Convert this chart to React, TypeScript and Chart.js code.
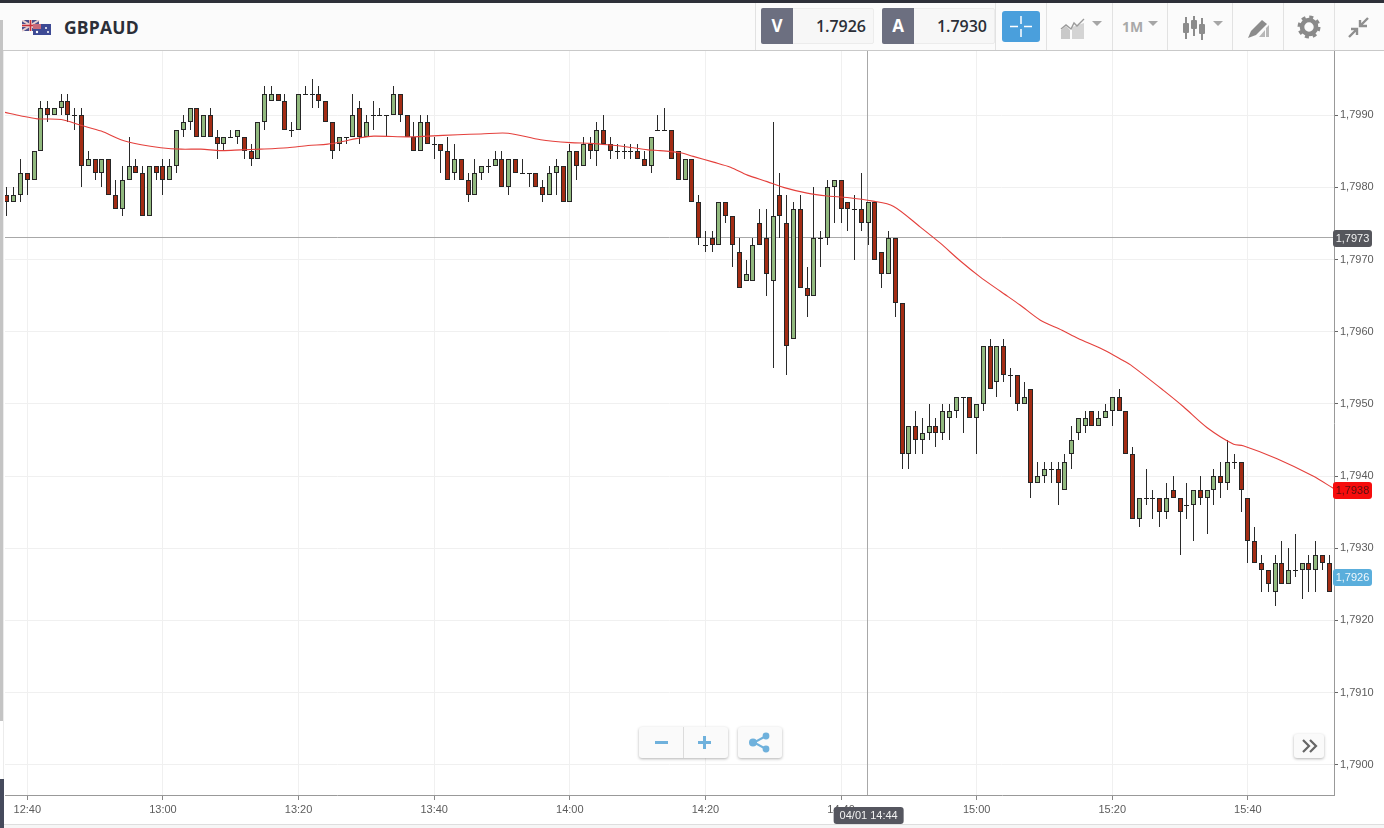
import React, { useEffect, useRef } from "react";
import { Chart, registerables } from "chart.js";

Chart.register(...registerables);

const firstMinute = 757; // 12:37, minutes since midnight
const opens = [1.7979,1.7978,1.7979,1.7982,1.7981,1.7985,1.7991,1.7990,1.7991,1.7992,
1.7990,1.7990,1.7983,1.7984,1.7982,1.7984,1.7979,1.7977,1.7981,1.7983,
1.7982,1.7976,1.7983,1.7983,1.7981,1.7983,1.7988,1.7989,1.7991,1.7987,
1.7990,1.7987,1.7986,1.7987,1.7987,1.7987,1.7985,1.7984,1.7989,1.7992,
1.7993,1.7992,1.7988,1.7988,1.7993,1.7993,1.7993,1.7992,1.7989,1.7986,
1.7987,1.7987,1.7991,1.7987,1.7990,1.7990,1.7990,1.7990,1.7993,1.7990,
1.7987,1.7985,1.7989,1.7986,1.7986,1.7985,1.7982,1.7984,1.7981,1.7979,
1.7982,1.7983,1.7983,1.7984,1.7980,1.7984,1.7982,1.7982,1.7982,1.7980,
1.7979,1.7982,1.7983,1.7978,1.7985,1.7983,1.7986,1.7985,1.7988,1.7986,
1.7985,1.7985,1.7985,1.7985,1.7984,1.7983,1.7988,1.7988,1.7988,1.7985,
1.7981,1.7984,1.7978,1.7972,1.7973,1.7972,1.7978,1.7976,1.7971,1.7967,
1.7967,1.7975,1.7973,1.7967,1.7979,1.7975,1.7959,1.7977,1.7966,1.7965,
1.7973,1.7973,1.7980,1.7981,1.7978,1.7977,1.7977,1.7975,1.7978,1.7971,
1.7968,1.7973,1.7964,1.7943,1.7947,1.7945,1.7946,1.7947,1.7946,1.7948,
1.7949,1.7951,1.7951,1.7948,1.7950,1.7958,1.7953,1.7958,1.7954,1.7954,
1.7950,1.7952,1.7939,1.7940,1.7941,1.7941,1.7938,1.7943,1.7946,1.7947,
1.7949,1.7947,1.7948,1.7949,1.7951,1.7949,1.7943,1.7934,1.7937,1.7937,
1.7937,1.7935,1.7938,1.7937,1.7936,1.7936,1.7938,1.7937,1.7938,1.7940,
1.7939,1.7942,1.7942,1.7937,1.7931,1.7928,1.7927,1.7924,1.7928,1.7925,
1.7927,1.7927,1.7928,1.7927,1.7929,1.7928];
const closes = [1.7978,1.7979,1.7982,1.7981,1.7985,1.7991,1.7990,1.7991,1.7992,1.7990,
1.7990,1.7983,1.7984,1.7982,1.7984,1.7979,1.7977,1.7981,1.7983,1.7982,
1.7976,1.7983,1.7982,1.7981,1.7983,1.7988,1.7989,1.7991,1.7987,1.7990,
1.7987,1.7986,1.7987,1.7987,1.7988,1.7985,1.7984,1.7989,1.7993,1.7993,
1.7992,1.7988,1.7988,1.7993,1.7993,1.7993,1.7992,1.7989,1.7985,1.7987,
1.7987,1.7990,1.7987,1.7989,1.7990,1.7990,1.7990,1.7993,1.7990,1.7987,
1.7985,1.7989,1.7986,1.7986,1.7985,1.7981,1.7984,1.7981,1.7979,1.7982,
1.7983,1.7983,1.7984,1.7980,1.7984,1.7982,1.7982,1.7982,1.7980,1.7979,
1.7982,1.7983,1.7978,1.7985,1.7983,1.7986,1.7985,1.7988,1.7986,1.7985,
1.7985,1.7985,1.7985,1.7984,1.7983,1.7987,1.7988,1.7988,1.7984,1.7981,
1.7984,1.7978,1.7973,1.7972,1.7972,1.7978,1.7976,1.7972,1.7966,1.7968,
1.7972,1.7972,1.7968,1.7976,1.7976,1.7958,1.7977,1.7966,1.7965,1.7973,
1.7973,1.7980,1.7981,1.7977,1.7977,1.7977,1.7975,1.7978,1.7970,1.7968,
1.7973,1.7964,1.7943,1.7947,1.7945,1.7946,1.7947,1.7946,1.7949,1.7949,
1.7951,1.7951,1.7948,1.7950,1.7958,1.7952,1.7958,1.7954,1.7954,1.7950,
1.7951,1.7939,1.7940,1.7941,1.7941,1.7939,1.7942,1.7945,1.7948,1.7948,
1.7947,1.7948,1.7949,1.7951,1.7949,1.7943,1.7934,1.7937,1.7937,1.7937,
1.7935,1.7937,1.7937,1.7935,1.7936,1.7938,1.7937,1.7938,1.7940,1.7939,
1.7942,1.7942,1.7938,1.7931,1.7928,1.7927,1.7925,1.7928,1.7925,1.7927,
1.7927,1.7928,1.7927,1.7929,1.7928,1.7924];
const highs = [1.7980,1.7980,1.7984,1.7982,1.7985,1.7992,1.7992,1.7991,1.7993,1.7993,
1.7991,1.7991,1.7985,1.7984,1.7984,1.7984,1.7981,1.7983,1.7987,1.7984,
1.7983,1.7983,1.7983,1.7984,1.7984,1.7988,1.7990,1.7991,1.7991,1.7990,
1.7991,1.7988,1.7987,1.7988,1.7988,1.7987,1.7986,1.7989,1.7994,1.7994,
1.7993,1.7993,1.7989,1.7993,1.7994,1.7995,1.7994,1.7992,1.7989,1.7987,
1.7987,1.7993,1.7992,1.7990,1.7992,1.7991,1.7990,1.7994,1.7993,1.7990,
1.7989,1.7990,1.7990,1.7987,1.7986,1.7987,1.7986,1.7984,1.7982,1.7984,
1.7983,1.7984,1.7985,1.7985,1.7984,1.7984,1.7984,1.7982,1.7982,1.7981,
1.7983,1.7984,1.7983,1.7986,1.7985,1.7987,1.7987,1.7989,1.7990,1.7987,
1.7986,1.7986,1.7986,1.7986,1.7985,1.7987,1.7990,1.7991,1.7988,1.7985,
1.7984,1.7984,1.7979,1.7974,1.7974,1.7978,1.7978,1.7976,1.7973,1.7970,
1.7973,1.7977,1.7977,1.7989,1.7982,1.7979,1.7978,1.7979,1.7969,1.7980,
1.7974,1.7981,1.7981,1.7981,1.7978,1.7979,1.7982,1.7978,1.7978,1.7971,
1.7974,1.7973,1.7964,1.7947,1.7949,1.7948,1.7950,1.7948,1.7950,1.7950,
1.7951,1.7951,1.7951,1.7950,1.7958,1.7959,1.7958,1.7959,1.7955,1.7954,
1.7953,1.7952,1.7942,1.7942,1.7942,1.7942,1.7943,1.7947,1.7948,1.7949,
1.7949,1.7949,1.7950,1.7951,1.7952,1.7949,1.7944,1.7937,1.7941,1.7938,
1.7937,1.7939,1.7940,1.7937,1.7939,1.7938,1.7940,1.7938,1.7941,1.7942,
1.7945,1.7943,1.7942,1.7937,1.7933,1.7929,1.7927,1.7929,1.7931,1.7930,
1.7932,1.7928,1.7929,1.7931,1.7929,1.7929];
const lows = [1.7976,1.7978,1.7978,1.7979,1.7981,1.7985,1.7989,1.7990,1.7990,1.7989,
1.7988,1.7980,1.7983,1.7981,1.7980,1.7979,1.7977,1.7976,1.7981,1.7982,
1.7976,1.7976,1.7981,1.7979,1.7981,1.7982,1.7987,1.7988,1.7987,1.7987,
1.7987,1.7984,1.7985,1.7987,1.7986,1.7984,1.7983,1.7984,1.7988,1.7992,
1.7992,1.7988,1.7987,1.7988,1.7993,1.7991,1.7991,1.7989,1.7984,1.7985,
1.7986,1.7987,1.7986,1.7987,1.7988,1.7990,1.7987,1.7990,1.7989,1.7987,
1.7985,1.7985,1.7986,1.7984,1.7982,1.7981,1.7981,1.7981,1.7978,1.7979,
1.7981,1.7982,1.7983,1.7980,1.7979,1.7982,1.7982,1.7980,1.7980,1.7978,
1.7979,1.7979,1.7978,1.7978,1.7981,1.7983,1.7984,1.7983,1.7986,1.7984,
1.7984,1.7984,1.7984,1.7984,1.7983,1.7982,1.7988,1.7988,1.7984,1.7981,
1.7981,1.7978,1.7972,1.7971,1.7971,1.7972,1.7975,1.7969,1.7966,1.7967,
1.7967,1.7972,1.7965,1.7955,1.7973,1.7954,1.7959,1.7966,1.7962,1.7965,
1.7969,1.7972,1.7975,1.7975,1.7974,1.7970,1.7974,1.7972,1.7970,1.7966,
1.7968,1.7962,1.7941,1.7941,1.7943,1.7943,1.7945,1.7944,1.7945,1.7945,
1.7948,1.7946,1.7948,1.7943,1.7949,1.7952,1.7951,1.7953,1.7951,1.7949,
1.7950,1.7937,1.7939,1.7939,1.7939,1.7936,1.7938,1.7941,1.7945,1.7946,
1.7947,1.7947,1.7948,1.7947,1.7949,1.7943,1.7934,1.7933,1.7936,1.7934,
1.7933,1.7934,1.7937,1.7929,1.7934,1.7931,1.7936,1.7932,1.7936,1.7937,
1.7938,1.7941,1.7935,1.7928,1.7928,1.7924,1.7924,1.7922,1.7925,1.7925,
1.7926,1.7923,1.7924,1.7924,1.7927,1.7924];

const maMinutes = [756.7,759.1,761.5,765,767.9,770.9,773.8,776.8,779.7,782.7,785.6,788.6,791.5,794.4,798.4,801.4,804.3,806.2,809.2,811.1,816.1,819.1,823.5,826.9,830.9,835.7,840.1,843.1,845.6,848.5,851.5,853.3,856.3,858.2,861.2,863.7,866.2,869.1,871.5,875,878,880.9,884.7,887.7,891.7,894.6,897.6,900.5,903.5,906.4,909.4,912.6,914.9,918.7,921.6,922.7,927.5,930.5,934,937.9,939.3,944.3,949.6,952.6];
const maValues = [1.79904,1.79899,1.79895,1.79894,1.79886,1.79878,1.79866,1.79859,1.79855,1.79853,1.79853,1.79851,1.79852,1.79853,1.79855,1.79858,1.79860,1.79863,1.79869,1.79871,1.79870,1.79871,1.79873,1.79874,1.79875,1.79866,1.79862,1.79861,1.79859,1.79856,1.79852,1.79851,1.79848,1.79843,1.79835,1.79828,1.79817,1.79808,1.79800,1.79792,1.79788,1.79786,1.79781,1.79774,1.79745,1.79723,1.79698,1.79676,1.79656,1.79637,1.79616,1.79602,1.79591,1.79575,1.79560,1.79554,1.79519,1.79496,1.79467,1.79444,1.79442,1.79424,1.79400,1.79383];

const xTickStep = 20;
const yTickStep = 0.001;
const crosshairMinute = 884;
const crosshairPrice = 1.7973;
const crosshairTimeText = "04/01 14:44";
const maLastPrice = 1.7938;
const bidPrice = 1.7926;
const symbol = "GBPAUD";
const bidText = "1.7926";
const askText = "1.7930";

const FONT = '"Liberation Sans", Arial, sans-serif';
const fmtPrice = (v: number) => v.toFixed(4).replace(".", ",");
const fmtTime = (m: number) => {
  const h = Math.floor(m / 60);
  const mm = Math.round(m - h * 60);
  return `${h}:${mm < 10 ? "0" : ""}${mm}`;
};

const minutes = opens.map((_, i) => firstMinute + i);
const wickData = minutes.map((x, i) => ({ x, y: [lows[i], highs[i]] }));
const upData = minutes.map((x, i) => ({ x, y: [opens[i], closes[i]], k: closes[i] > opens[i] })).filter((d) => d.k);
const downData = minutes.map((x, i) => ({ x, y: [closes[i], opens[i]], k: closes[i] < opens[i] })).filter((d) => d.k);
const dojiData = minutes.map((x, i) => ({ x, y: opens[i], k: opens[i] === closes[i] })).filter((d) => d.k);
const maData = maMinutes.map((x, i) => ({ x, y: maValues[i] }));

const snapPlugin = {
  id: "snap",
  afterDatasetsUpdate(chart: any) {
    chart.data.datasets.forEach((ds: any, i: number) => {
      const meta = chart.getDatasetMeta(i);
      if (ds.type === "bar") {
        meta.data.forEach((el: any) => {
          el.x = Math.floor(el.x) + 0.5;
          el.y = Math.round(el.y);
          el.base = Math.round(el.base);
        });
      } else if (ds.label === "doji") {
        meta.data.forEach((el: any) => {
          el.x = Math.floor(el.x) + 0.5;
          el.y = Math.round(el.y) + 0.5;
        });
      }
    });
  },
};

const tag = (ctx: any, x: number, y: number, w: number, h: number, fill: string, color: string, text: string) => {
  ctx.save();
  ctx.fillStyle = fill;
  ctx.beginPath();
  ctx.roundRect(x, y, w, h, 3);
  ctx.fill();
  ctx.fillStyle = color;
  ctx.font = `11px ${FONT}`;
  ctx.textAlign = "center";
  ctx.textBaseline = "middle";
  ctx.fillText(text, x + w / 2, y + h / 2 + 0.5);
  ctx.restore();
};

const crosshairPlugin = {
  id: "crosshair",
  beforeDatasetsDraw(chart: any) {
    const { ctx, chartArea: a, scales } = chart;
    const x = Math.round(scales.x.getPixelForValue(crosshairMinute)) - 0.5;
    const y = Math.round(scales.y.getPixelForValue(crosshairPrice)) - 0.5;
    ctx.save();
    ctx.strokeStyle = "#a8a8a8";
    ctx.lineWidth = 1;
    ctx.beginPath();
    ctx.moveTo(x, a.top);
    ctx.lineTo(x, a.bottom);
    ctx.moveTo(a.left, y);
    ctx.lineTo(a.right, y);
    ctx.stroke();
    ctx.restore();
  },
  afterDraw(chart: any) {
    const { ctx, chartArea: a, scales } = chart;
    const tagAt = (p: number, fill: string, color: string) => {
      const y = Math.round(scales.y.getPixelForValue(p));
      tag(ctx, a.right - 1, y - 8, 39, 17, fill, color, fmtPrice(p));
    };
    tagAt(crosshairPrice, "#55565c", "#f2f2f2");
    tagAt(maLastPrice, "#f60d0d", "#5a1010");
    tagAt(bidPrice, "#5aaedc", "#eef7fc");
    const cx = scales.x.getPixelForValue(crosshairMinute);
    tag(ctx, cx - 34.5, a.bottom + 12, 70, 17, "#55565f", "#f2f2f2", crosshairTimeText);
  },
};

const Sep = ({ x }: { x: number }) => (
  <div style={{ position: "absolute", left: x, top: 3, width: 1, height: 47, background: "#e2e2e2" }} />
);
const Box = ({ x, w, label, value }: { x: number; w: number; label: string; value: string }) => (
  <div style={{ position: "absolute", left: x, top: 8, width: w, height: 36, background: "#f7f7f7", border: "1px solid #ececec", boxSizing: "border-box", borderRadius: 2 }}>
    <div style={{ position: "absolute", left: -1, top: -1, width: 32, height: 36, background: "#6c6f80", color: "#fff", fontFamily: '"Open Sans"', fontWeight: 700, fontSize: 17, lineHeight: "36px", textAlign: "center", borderRadius: "2px 0 0 2px" }}>{label}</div>
    <div style={{ position: "absolute", right: 7, top: 0, lineHeight: "35px", fontFamily: '"Open Sans"', fontWeight: 600, fontSize: 16, color: "#2b2f38" }}>{value}</div>
  </div>
);
const Caret = ({ x }: { x: number }) => (
  <div style={{ position: "absolute", left: x, top: 21, width: 0, height: 0, borderLeft: "5px solid transparent", borderRight: "5px solid transparent", borderTop: "5.5px solid #a6a6a6" }} />
);
const btn: React.CSSProperties = { position: "absolute", background: "#fafafa", borderRadius: 3, boxShadow: "0 1px 3px rgba(0,0,0,.3)" };

export default function App() {
  const ref = useRef<HTMLCanvasElement>(null);
  useEffect(() => {
    const chart = new Chart(ref.current as HTMLCanvasElement, {
      type: "bar",
      data: {
        datasets: [
          { type: "line", label: "ma", data: maData, borderColor: "#e4403c", borderWidth: 1.1, pointRadius: 0, tension: 0.3, order: 1 },
          { type: "line", label: "doji", data: dojiData, showLine: false, pointStyle: "line", pointRadius: 2.5, pointBorderWidth: 1, pointBorderColor: "#222", order: 2 },
          { type: "bar", label: "up", data: upData, grouped: false, barThickness: 5, backgroundColor: "#91b97e", borderColor: "#262626", borderWidth: 1, borderSkipped: false, inflateAmount: 0, order: 2 },
          { type: "bar", label: "down", data: downData, grouped: false, barThickness: 5, backgroundColor: "#a32c14", borderColor: "#262626", borderWidth: 1, borderSkipped: false, inflateAmount: 0, order: 2 },
          { type: "bar", label: "wick", data: wickData, grouped: false, barThickness: 1, backgroundColor: "#2a2a2a", borderWidth: 0, inflateAmount: 0, order: 3 },
        ] as any,
      },
      options: {
        responsive: false,
        animation: false,
        events: [],
        layout: { padding: { left: 4, top: 51, right: 0, bottom: 0 } },
        plugins: { legend: { display: false }, tooltip: { enabled: false } },
        scales: {
          x: {
            type: "linear",
            min: 756.71,
            max: 952.7,
            offset: false,
            afterFit: (s: any) => { s.height = 33; },
            grid: { color: "#f0f0f0", offset: false, tickColor: "#888", tickLength: 5 },
            border: { color: "#999" },
            ticks: { stepSize: xTickStep, includeBounds: false, autoSkip: false, maxRotation: 0, color: "#5c5c5c", padding: 3, font: { family: FONT, size: 11 }, callback: (v: any) => fmtTime(Number(v)) },
          },
          y: {
            position: "right",
            min: 1.78958,
            max: 1.79989,
            afterFit: (s: any) => { s.width = 50; },
            grid: { color: "#f0f0f0", tickColor: "#666", tickLength: 4 },
            border: { color: "#999" },
            ticks: { stepSize: yTickStep, includeBounds: false, autoSkip: false, color: "#5c5c5c", padding: 2, font: { family: FONT, size: 11 }, callback: (v: any) => fmtPrice(Number(v)) },
          },
        },
      } as any,
      plugins: [snapPlugin, crosshairPlugin],
    } as any);
    return () => chart.destroy();
  }, []);

  return (
    <div style={{ position: "fixed", left: 0, top: 0, width: 1384, height: 828, overflow: "hidden", background: "#fff" }}>
      <canvas ref={ref} width={1384} height={828} style={{ position: "absolute", left: 0, top: 0, width: 1384, height: 828 }} />
      <div style={{ position: "absolute", left: 3, top: 51, width: 1, height: 777, background: "#ececec" }} />
      <div style={{ position: "absolute", left: 0, top: 51, width: 3, height: 670, background: "#c4c4c4" }} />
      <div style={{ position: "absolute", left: 0, top: 779, width: 4, height: 49, background: "#454a5c" }} />
      <div style={{ position: "absolute", left: 4, top: 824, width: 1380, height: 4, background: "#f6f6f6", borderTop: "1px solid #dedede", boxSizing: "border-box" }} />

      <div style={{ position: "absolute", left: 0, top: 0, width: 1384, height: 51, background: "#fbfbfb", borderBottom: "1px solid #c9c9c9", boxSizing: "border-box" }}>
        <div style={{ position: "absolute", left: 0, top: 0, width: 1384, height: 3, background: "#2e3039" }} />
        <div style={{ position: "absolute", left: 0, top: 20, width: 3, height: 31, background: "#c4c4c4" }} />
        <svg style={{ position: "absolute", left: 22, top: 20 }} width="29" height="16" viewBox="0 0 29 16">
          <rect x="0" y="0" width="17" height="11" fill="#4a4f8c" />
          <path d="M0 0L17 11M17 0L0 11" stroke="#e8d0d0" strokeWidth="2" />
          <path d="M8.5 0V11M0 5.5H17" stroke="#e8d0d0" strokeWidth="3" />
          <path d="M8.5 0V11M0 5.5H17" stroke="#c8303a" strokeWidth="1.5" />
          <rect x="11" y="4" width="18" height="11" fill="#3d4a94" />
          <rect x="11" y="4" width="8" height="5" fill="#c86a7a" />
          <circle cx="24" cy="8" r="1" fill="#fff" /><circle cx="26" cy="12" r="1" fill="#fff" /><circle cx="15" cy="12" r="1.2" fill="#fff" />
        </svg>
        <div style={{ position: "absolute", left: 64, top: 15, lineHeight: "25px", fontFamily: '"Open Sans"', fontWeight: 700, fontSize: 17.5, letterSpacing: 0.2, color: "#2b2f38" }}>{symbol}</div>
        {[755, 995, 1046, 1112, 1167, 1232, 1283, 1334].map((x) => <Sep key={x} x={x} />)}
        <Box x={761} w={113} label="V" value={bidText} />
        <Box x={882} w={113} label="A" value={askText} />
        <div style={{ position: "absolute", left: 1002, top: 11, width: 38, height: 31, background: "#4a9fdc", borderRadius: 3 }}>
          <svg width="38" height="31"><path d="M8 15.5H16M22 15.5H30M19 5V13M19 18V26" stroke="#fff" strokeWidth="1.5" /></svg>
        </div>
        <svg style={{ position: "absolute", left: 1060, top: 17 }} width="28" height="24" viewBox="0 0 28 24">
          <path d="M1 22V13L6 9L10 13V22Z" fill="#c9c9c9" /><path d="M12 22V10L24 6V22Z" fill="#d4d4d4" />
          <path d="M1 12L6 8L11 12L14 6L17 9L24 2" fill="none" stroke="#9a9a9a" strokeWidth="1.4" />
        </svg>
        <Caret x={1092} />
        <div style={{ position: "absolute", left: 1122, top: 17, lineHeight: "20px", fontFamily: '"Open Sans"', fontWeight: 700, fontSize: 14, color: "#a9a9a9" }}>1M</div>
        <Caret x={1148} />
        <svg style={{ position: "absolute", left: 1182, top: 15 }} width="24" height="26" viewBox="0 0 24 26" fill="#8c8c8c">
          <rect x="3" y="2" width="2" height="22" /><rect x="1" y="8" width="6" height="10" rx="1" />
          <rect x="11" y="1" width="2" height="20" /><rect x="9" y="5" width="6" height="9" rx="1" />
          <rect x="19" y="3" width="2" height="22" /><rect x="17" y="9" width="6" height="10" rx="1" />
        </svg>
        <Caret x={1213} />
        <svg style={{ position: "absolute", left: 1247, top: 17 }} width="24" height="22" viewBox="0 0 24 22">
          <path d="M1 21L4 14L15 3L20 7L9 18Z" fill="#8c8c8c" /><path d="M12 20L18 13V20ZM19 20V11L22 8V20Z" fill="#b8b8b8" />
        </svg>
        <svg style={{ position: "absolute", left: 1297, top: 15 }} width="24" height="24" viewBox="0 0 24 24">
          <circle cx="12" cy="12" r="7" fill="none" stroke="#8a8a8a" strokeWidth="4.6" />
          <circle cx="12" cy="12" r="10" fill="none" stroke="#8a8a8a" strokeWidth="3" strokeDasharray="4 3.85" />
        </svg>
        <svg style={{ position: "absolute", left: 1347, top: 17 }} width="24" height="22" viewBox="0 0 24 22">
          <path d="M21 1L14 8M13 3V9H20M2 20L9 13M4 12H10V18" fill="none" stroke="#8f8f8f" strokeWidth="2.4" />
        </svg>
      </div>

      <div style={{ ...btn, left: 639, top: 727, width: 89, height: 31 }}>
        <div style={{ position: "absolute", left: 44, top: 0, width: 1, height: 31, background: "#dcdcdc" }} />
        <svg width="89" height="31"><path d="M16 15.5H29M59 15.5H72M65.5 9V22" stroke="#6fb1dc" strokeWidth="3" /></svg>
      </div>
      <div style={{ ...btn, left: 738, top: 727, width: 44, height: 31 }}>
        <svg width="44" height="31">
          <path d="M28 9L16 15.5L28 22" fill="none" stroke="#6fb1dc" strokeWidth="2" />
          <circle cx="15" cy="15.5" r="4" fill="#6fb1dc" /><circle cx="28" cy="9" r="3.4" fill="#6fb1dc" /><circle cx="28" cy="22" r="3.4" fill="#6fb1dc" />
        </svg>
      </div>
      <div style={{ ...btn, left: 1294, top: 734, width: 30, height: 24 }}>
        <svg width="30" height="24"><path d="M9 6L15 12L9 18M16 6L22 12L16 18" fill="none" stroke="#666" strokeWidth="2.2" /></svg>
      </div>
    </div>
  );
}
